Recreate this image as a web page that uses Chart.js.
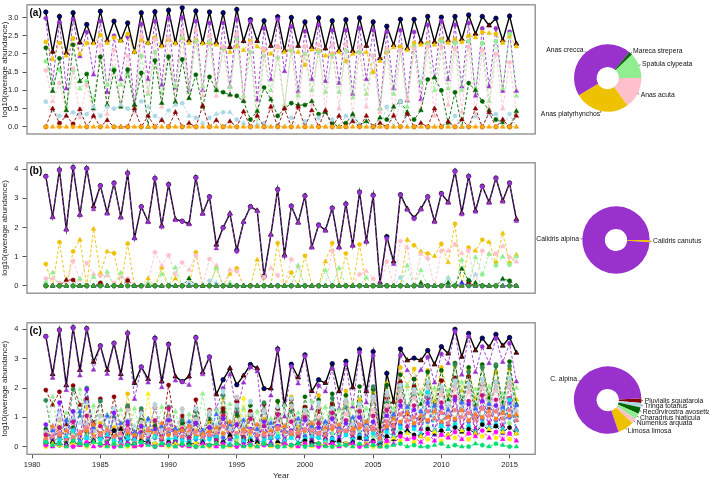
<!DOCTYPE html>
<html>
<head>
<meta charset="utf-8">
<script src="https://cdn.jsdelivr.net/npm/chart.js@4.4.1/dist/chart.umd.min.js"></script>
<style>
  body { margin: 0; background: #fff; }
  #wrap { position: relative; width: 709px; height: 482px; overflow: hidden; }
  canvas { position: absolute; }
</style>
</head>
<body>
<div id="wrap">
  <canvas id="lineA" width="540" height="140" style="left:0;top:0"></canvas>
  <canvas id="lineB" width="540" height="140" style="left:0;top:158px"></canvas>
  <canvas id="lineC" width="540" height="164" style="left:0;top:318px"></canvas>
  <canvas id="pieA" width="179" height="156" style="left:530px;top:0"></canvas>
  <canvas id="pieB" width="179" height="156" style="left:530px;top:162px"></canvas>
  <canvas id="pieC" width="179" height="156" style="left:530px;top:322px"></canvas>
</div>
<script>
// survey years: each year has a winter count (circle) and a summer count (triangle)
const years = [1981, 1982, 1983, 1984, 1985, 1986, 1987, 1988, 1989, 1990,
  1991, 1992, 1993, 1994, 1995, 1996, 1997, 1998, 1999, 2000,
  2001, 2002, 2003, 2004, 2005, 2006, 2007, 2008, 2009, 2010,
  2011, 2012, 2013, 2014, 2015];
const xTicks = ['1980', '1985', '1990', '1995', '2000', '2005', '2010', '2015'];
const yTicksA = ['0.0', '0.5', '1.0', '1.5', '2.0', '2.5', '3.0'];
const yTicksBC = ['0', '1', '2', '3', '4'];

// ---- panel (a): ducks ----
const totalA = [
  3.15,2.06, 3.03,2.03, 3.13,2.31, 2.81,2.31, 3.17,2.37,
  2.90,2.37, 2.85,2.06, 3.13,2.31, 3.16,2.24, 3.20,2.31,
  3.27,2.37, 3.18,2.31, 3.15,2.31, 3.13,2.19, 3.22,2.35,
  2.94,2.35, 2.91,2.22, 3.02,2.10, 3.00,2.22, 2.88,2.19,
  2.99,2.15, 2.91,2.10, 2.94,2.08, 2.99,2.22, 2.88,1.88,
  2.76,2.24, 2.95,2.15, 2.95,2.33, 3.03,2.33, 3.01,2.37,
  3.03,2.40, 3.07,2.55, 3.03,2.78, 2.98,2.37, 3.04,2.28];
const crecca = [
  2.98,1.21, 2.87,1.05, 2.95,1.93, 2.60,1.43, 2.90,0.95,
  2.50,1.30, 2.48,0.60, 2.82,1.30, 2.90,1.15, 2.98,1.07,
  3.00,1.00, 2.90,1.00, 2.85,1.05, 2.85,1.10, 2.95,0.72,
  2.90,0.74, 2.70,1.30, 2.95,1.52, 2.75,0.97, 2.62,1.30,
  2.80,1.25, 2.65,1.20, 2.65,0.90, 2.70,1.30, 2.65,0.50,
  2.60,1.05, 2.65,0.72, 2.60,0.75, 2.80,1.35, 2.90,1.30,
  2.80,1.10, 2.85,0.85, 2.70,1.10, 2.70,0.98, 2.61,0.98];
const platyrhynchos = [
  2.33,1.85, 2.30,1.95, 2.43,2.00, 2.30,2.28, 2.52,2.30,
  2.45,2.35, 2.55,2.05, 2.38,2.30, 2.45,2.20, 2.40,2.28,
  2.45,2.30, 2.38,2.28, 2.30,2.25, 2.15,2.05, 2.22,2.10,
  2.35,2.20, 2.10,2.00, 2.20,2.05, 2.10,2.05, 1.70,2.12,
  2.10,1.95, 2.00,2.05, 1.80,2.00, 2.05,2.05, 1.50,1.80,
  2.05,2.18, 2.20,2.10, 2.30,2.25, 2.30,2.25, 2.40,2.30,
  2.40,2.32, 2.50,2.45, 2.60,2.57, 2.55,2.30, 2.50,2.20];
const clypeata = [
  1.80,1.20, 1.58,0.55, 1.55,1.05, 1.25,0.75, 1.93,1.15,
  1.60,1.15, 1.45,0.55, 1.95,0.90, 2.05,0.92, 1.95,1.10,
  2.45,0.95, 2.35,1.10, 2.35,1.05, 2.15,1.08, 2.40,0.85,
  2.05,0.05, 1.95,1.00, 1.90,0.60, 2.10,0.85, 2.00,1.00,
  2.05,0.95, 1.95,0.95, 2.10,0.80, 2.05,0.90, 1.95,0.50,
  2.10,0.90, 2.10,0.55, 2.20,1.20, 2.25,1.00, 2.35,1.05,
  2.30,1.00, 2.35,1.05, 2.30,0.70, 2.35,1.05, 2.55,0.85];
const acuta = [
  1.55,0.70, 1.20,0.45, 1.60,0.25, 1.15,0.30, 2.25,0.35,
  2.10,0.60, 1.95,0.40, 2.50,0.95, 2.40,0.55, 2.45,0.70,
  2.60,0.80, 2.65,0.85, 2.50,0.85, 2.20,0.85, 2.55,0.75,
  2.30,0.35, 2.15,0.50, 2.20,0.55, 2.20,0.50, 2.20,0.60,
  2.25,0.45, 2.25,0.50, 2.25,0.30, 2.20,0.55, 1.95,0.40,
  2.15,0.35, 2.10,0.75, 2.15,0.50, 2.20,0.30, 2.20,0.60,
  2.15,0.40, 2.20,0.30, 2.10,0.50, 2.00,0.50, 1.77,0.40];
const strepera = [
  2.17,0.98, 1.88,0.45, 2.25,1.25, 1.45,0.50, 1.92,0.60,
  1.55,0.55, 1.57,0.60, 1.48,0.00, 1.82,0.65, 1.92,0.68,
  1.85,0.78, 1.43,0.55, 1.37,1.00, 0.95,0.88, 0.85,0.70,
  0.20,0.43, 1.08,0.75, 0.30,0.50, 0.65,0.60, 0.60,0.70,
  0.35,0.40, 0.10,0.00, 0.10,0.35, 0.05,0.15, 0.00,0.25,
  0.20,0.55, 0.70,0.40, 0.20,0.45, 1.30,1.35, 1.00,0.10,
  0.95,0.00, 1.20,1.00, 0.70,0.45, 0.20,0.12, 0.00,0.43];
const duckRed = [
  0.00,0.50, 0.10,0.30, 0.08,0.48, 0.00,0.30, 0.00,0.18,
  0.00,0.00, 0.00,0.50, 0.00,0.30, 0.00,0.18, 0.00,0.40,
  0.00,0.10, 0.00,0.58, 0.00,0.18, 0.00,0.15, 0.00,0.42,
  0.00,0.30, 0.00,0.55, 0.00,0.50, 0.00,0.55, 0.00,0.45,
  0.00,0.45, 0.00,0.30, 0.00,0.15, 0.00,0.30, 0.00,0.10,
  0.00,0.30, 0.00,0.35, 0.00,0.10, 0.00,0.50, 0.00,0.15,
  0.00,0.20, 0.00,0.50, 0.00,0.40, 0.00,0.20, 0.00,0.30];
const duckBlue = [
  0.69,0.45, 0.30,0.30, 0.40,0.35, 0.35,0.55, 0.30,0.55,
  0.50,0.60, 0.50,0.45, 0.70,0.55, 0.30,0.20, 0.45,0.60,
  0.65,0.30, 0.25,0.10, 0.25,0.35, 0.40,0.40, 0.20,0.10,
  0.00,0.05, 0.10,0.00, 0.05,0.00, 0.25,0.00, 0.15,0.00,
  0.25,0.00, 0.20,0.00, 0.30,0.20, 0.05,0.00, 0.00,0.00,
  0.55,0.00, 0.70,0.00, 0.00,0.00, 0.00,0.00, 0.00,0.00,
  0.30,0.00, 0.00,0.30, 0.00,0.35, 0.35,0.00, 0.35,0.00];
const duckOrange = [
  0,0, 0,0, 0,0, 0,0, 0,0,  0,0, 0,0, 0,0, 0,0, 0,0,
  0,0, 0,0, 0,0, 0,0, 0,0,  0,0, 0,0, 0,0, 0,0, 0,0,
  0,0, 0,0, 0,0, 0,0, 0,0,  0,0, 0,0, 0,0, 0,0, 0,0,
  0,0, 0,0, 0,0, 0,0, 0,0];

// ---- panel (b): Calidris ----
const totalB = [
  3.76,2.36, 3.98,1.94, 4.06,2.44, 4.03,2.72, 3.44,2.50,
  3.53,2.36, 3.87,1.64, 2.72,2.20, 3.69,2.06, 3.48,2.28,
  2.22,2.13, 3.72,2.48, 3.06,1.41, 2.00,2.48, 1.22,2.20,
  2.72,2.58, 0.33,1.76, 3.31,1.06, 2.74,2.17, 3.09,1.33,
  2.09,1.91, 2.67,1.33, 2.81,1.39, 3.22,1.53, 3.11,0.11,
  1.69,0.83, 3.13,2.64, 2.33,2.64, 3.06,2.22, 3.17,2.87,
  3.94,2.50, 3.76,2.58, 3.42,2.87, 3.70,2.92, 3.53,2.28];
const alpina = [
  3.75,2.34, 3.97,1.92, 4.05,2.42, 4.02,2.62, 3.43,2.47,
  3.52,2.33, 3.86,1.62, 2.71,2.18, 3.68,2.02, 3.47,2.25,
  2.21,2.10, 3.71,2.46, 3.05,1.28, 1.99,2.46, 1.18,2.18,
  2.71,2.56, 0.30,1.74, 3.30,1.02, 2.73,2.15, 3.08,1.30,
  2.08,1.88, 2.66,1.30, 2.80,1.36, 3.21,1.50, 3.10,0.06,
  1.62,0.74, 3.12,2.60, 2.30,2.61, 3.05,2.18, 3.16,2.84,
  3.93,2.45, 3.75,2.54, 3.41,2.84, 3.69,2.88, 3.52,2.22];
const canutus = [
  0.75,0.00, 1.50,0.00, 1.18,1.58, 0.00,1.95, 0.40,1.18,
  1.12,0.00, 1.45,0.00, 0.00,0.25, 0.00,0.62, 0.00,0.25,
  0.00,0.00, 1.15,0.00, 0.00,0.65, 0.00,0.40, 0.60,0.00,
  0.00,0.89, 0.00,0.00, 1.47,0.00, 0.45,0.00, 1.03,0.00,
  0.00,0.83, 1.47,0.00, 1.11,0.00, 1.42,0.00, 0.00,0.00,
  0.00,0.00, 0.00,1.58, 1.39,1.17, 1.11,1.02, 1.44,0.80,
  2.13,0.00, 1.31,1.20, 1.58,1.50, 0.80,1.80, 0.78,1.06];
const calPink = [
  0.25,0.25, 0.10,0.10, 0.85,0.20, 0.78,0.40, 0.35,0.35,
  0.10,0.30, 0.25,0.00, 0.00,0.10, 1.15,0.70, 1.05,0.40,
  0.80,0.55, 1.05,0.00, 0.92,0.70, 0.00,0.55, 0.50,0.00,
  0.00,0.00, 0.30,0.61, 0.36,0.00, 0.91,0.64, 0.00,0.00,
  0.00,0.00, 1.20,0.00, 0.00,0.00, 0.39,0.50, 0.24,0.00,
  0.83,0.00, 1.53,1.31, 0.00,1.09, 0.94,0.00, 1.20,1.20,
  1.42,1.11, 1.22,0.00, 1.20,1.09, 1.11,1.36, 0.98,0.83];
const calLightGreen = [
  0.10,0.45, 0.00,0.20, 0.00,0.25, 0.00,0.30, 0.00,0.48,
  0.00,0.45, 0.00,0.00, 0.00,0.10, 0.00,0.40, 0.00,0.62,
  0.00,0.00, 0.00,0.00, 0.00,0.60, 0.00,0.10, 0.00,0.00,
  0.00,0.00, 0.00,0.00, 0.00,0.00, 0.00,0.69, 0.00,0.00,
  0.00,0.53, 0.00,0.61, 0.00,0.00, 0.00,0.28, 0.00,0.00,
  0.00,0.00, 0.00,0.69, 0.00,0.53, 0.00,0.00, 0.00,0.28,
  0.00,0.89, 0.00,0.98, 0.39,1.09, 0.70,1.00, 0.72,1.00];
const calDarkGreen = [
  0,0, 0,0, 0,0, 0,0, 0,0,  0,0, 0,0, 0,0, 0,0, 0,0,
  0,0.25, 0,0, 0,0, 0,0, 0,0,  0,0, 0,0, 0,0, 0,0, 0,0,
  0,0, 0,0, 0,0, 0,0, 0,0,  0,0, 0,0, 0,0.10, 0,0, 0,0.10,
  0,0.58, 0.19,0.10, 0,0, 0,0.24, 0.17,0];
const calGreen = [
  0,0, 0,0, 0,0, 0,0, 0,0,  0,0, 0,0, 0,0, 0,0, 0,0,
  0,0, 0,0, 0,0, 0,0, 0,0,  0,0, 0,0, 0,0, 0,0, 0,0,
  0,0, 0,0, 0,0, 0,0, 0,0,  0,0, 0,0, 0,0, 0,0, 0,0,
  0,0, 0,0, 0,0, 0,0, 0,0];
const calLightBlue = [
  0,0, 0,0, 0,0, 0,0, 0,0,  0,0, 0,0, 0,0, 0,0, 0,0,
  0,0.11, 0,0, 0.17,0.10, 0,0, 0,0,  0,0, 0,0, 0,0, 0,0, 0,0,
  0,0, 0,0, 0,0, 0,0, 0,0,  0,0, 0.28,0, 0,0, 0,0, 0,0.24,
  0,0, 0,0.39, 0,0, 0,0.20, 0,0];
const calDarkRed = [
  0,0, 0,0.20, 0.20,0, 0,0, 0.10,0,  0,0, 0.18,0, 0,0, 0,0, 0,0,
  0,0, 0,0, 0,0, 0,0, 0,0,  0,0, 0,0, 0,0, 0,0, 0,0,
  0,0, 0,0, 0,0, 0,0, 0,0,  0,0, 0,0, 0,0, 0,0, 0,0,
  0,0, 0.10,0, 0,0, 0,0, 0,0];
const calBlue = [
  0,0, 0,0, 0,0, 0,0, 0,0,  0,0, 0,0, 0,0, 0,0, 0,0,
  0,0, 0,0, 0,0, 0,0, 0,0,  0,0, 0,0, 0,0, 0,0, 0,0,
  0,0, 0,0, 0,0, 0,0, 0,0,  0,0, 0,0, 0,0, 0,0, 0,0,
  0,0.10, 0,0, 0,0, 0,0, 0,0];

// ---- panel (c): all waders ----
const totalC = [
  3.76,2.47, 3.98,2.09, 4.06,2.61, 4.03,2.89, 3.44,2.61,
  3.53,2.47, 3.87,2.17, 2.72,2.30, 3.70,2.22, 3.49,2.39,
  2.22,2.39, 3.72,2.53, 3.06,1.78, 2.28,2.67, 2.11,2.42,
  2.80,2.67, 1.98,1.98, 3.33,1.42, 2.81,2.36, 3.13,1.89,
  2.28,2.17, 2.83,1.89, 2.91,2.02, 3.31,1.89, 3.24,0.56,
  2.50,1.53, 3.33,2.94, 3.02,2.94, 3.28,2.80, 3.41,3.17,
  4.00,3.06, 3.86,3.28, 3.70,3.39, 3.83,3.44, 3.72,3.20];
const limosa = [
  0.45,0.20, 0.90,0.30, 0.55,0.15, 1.35,0.40, 0.80,0.25,
  0.65,0.20, 1.80,0.35, 0.90,0.30, 0.70,0.25, 1.05,0.40,
  0.75,0.20, 0.55,0.15, 0.85,0.30, 1.65,0.55, 1.05,0.35,
  1.20,0.50, 0.95,0.40, 1.55,0.30, 1.70,0.65, 1.30,0.45,
  1.75,0.60, 1.45,0.50, 1.90,0.70, 1.60,0.55, 1.85,0.25,
  2.15,1.00, 2.70,2.05, 2.65,1.80, 2.60,1.55, 2.70,1.75,
  2.75,1.90, 2.60,1.65, 2.70,1.70, 2.55,1.45, 2.65,1.60];
const numenius = [
  0.25,0.45, 0.50,0.60, 0.35,0.40, 0.75,0.55, 0.40,0.30,
  0.55,0.35, 0.60,0.25, 0.70,0.40, 0.45,0.50, 0.80,0.35,
  0.65,0.45, 0.90,0.40, 0.70,0.55, 1.00,0.50, 0.85,0.45,
  0.95,0.60, 0.80,0.45, 1.05,0.55, 0.90,0.50, 1.15,0.65,
  1.00,0.55, 1.20,0.70, 1.10,0.60, 1.30,0.65, 1.25,0.20,
  1.40,0.85, 1.70,1.20, 1.65,1.10, 1.80,1.25, 1.75,1.15,
  1.95,1.35, 1.85,1.20, 2.00,1.40, 1.90,1.30, 2.05,1.25];
const charadrius = [
  0.30,1.70, 0.25,1.15, 0.40,1.95, 0.35,1.40, 0.20,1.10,
  0.30,1.25, 0.25,1.30, 0.35,0.95, 0.30,1.35, 0.40,1.20,
  0.25,1.10, 0.35,1.80, 0.30,1.25, 0.40,1.45, 0.25,1.30,
  0.35,1.20, 0.30,0.95, 0.45,1.40, 0.35,1.15, 0.40,1.55,
  0.30,1.35, 0.45,1.25, 0.40,1.50, 0.50,1.30, 0.35,0.20,
  0.55,1.30, 0.60,2.10, 0.70,1.85, 0.65,2.00, 0.75,1.90,
  0.80,2.20, 0.70,1.95, 0.85,2.05, 0.75,1.80, 0.80,2.00];
const recurvirostra = [
  0.60,0.10, 0.40,0.05, 0.65,0.10, 0.50,0.20, 0.35,0.05,
  0.55,0.15, 0.40,0.10, 0.90,0.20, 0.70,0.30, 1.00,0.25,
  0.80,0.15, 1.00,0.30, 0.95,0.20, 1.20,0.35, 1.10,0.30,
  1.40,0.40, 1.25,0.30, 1.55,0.50, 1.45,0.35, 1.70,0.55,
  1.60,0.40, 1.80,0.60, 1.75,0.45, 2.05,0.65, 1.95,0.30,
  2.10,0.90, 2.45,1.20, 2.30,1.45, 2.55,1.30, 2.60,1.60,
  2.85,1.55, 2.70,1.40, 2.80,1.65, 2.75,1.50, 2.90,1.45];
const tringa = [
  0.50,0.70, 1.20,0.60, 0.95,0.80, 1.50,0.55, 1.05,0.65,
  1.30,0.50, 0.90,0.70, 1.15,0.45, 1.45,0.60, 1.00,0.55,
  1.25,0.65, 1.30,0.50, 1.10,0.75, 1.90,0.60, 1.40,0.70,
  1.55,0.50, 1.20,0.65, 1.35,0.55, 1.65,0.80, 1.25,0.60,
  1.50,0.70, 1.30,0.55, 1.60,0.75, 1.45,0.65, 1.70,0.15,
  1.85,0.95, 2.10,1.30, 1.95,1.20, 2.20,1.15, 2.05,1.40,
  2.25,1.35, 2.15,1.25, 2.30,1.45, 2.20,1.30, 2.35,1.20];
const pluvialis = [
  1.93,1.42, 1.87,0.75, 2.08,1.42, 1.63,0.80, 1.63,0.45,
  1.70,0.60, 1.35,0.30, 1.20,0.55, 1.33,0.40, 2.10,0.60,
  1.05,0.35, 1.60,0.45, 1.25,0.30, 1.30,0.50, 1.55,0.35,
  1.20,0.60, 1.45,0.40, 1.30,0.55, 1.60,0.45, 1.35,0.50,
  1.20,0.30, 1.45,0.40, 1.55,0.60, 1.25,0.35, 1.70,0.20,
  1.65,0.80, 2.20,1.10, 2.05,0.95, 2.15,1.20, 2.25,1.05,
  2.35,1.25, 2.40,1.00, 2.10,1.30, 2.20,1.15, 2.05,0.90];
const waderSeaGreen = [
  1.58,0.30, 0.65,0.20, 1.95,1.05, 2.00,0.55, 1.55,0.25,
  1.00,0.30, 1.40,0.20, 1.30,0.45, 0.85,0.15, 1.35,0.35,
  0.90,0.20, 1.20,0.25, 1.10,0.40, 1.75,0.30, 1.30,0.25,
  1.05,0.15, 1.50,0.35, 0.95,0.20, 1.20,0.40, 1.25,0.30,
  0.95,0.25, 1.65,0.45, 1.35,0.30, 1.45,0.25, 2.05,0.10,
  1.50,0.60, 2.00,1.30, 1.80,1.05, 2.10,0.95, 1.95,1.20,
  2.80,1.35, 2.55,1.10, 2.70,1.40, 2.80,1.25, 2.75,1.05];
const waderViolet = [
  0.75,0.15, 1.50,0.30, 1.20,0.20, 1.95,0.25, 0.40,0.10,
  1.15,0.20, 0.85,0.15, 0.70,0.25, 0.60,0.10, 0.90,0.20,
  0.55,0.15, 0.80,0.20, 0.65,0.10, 0.95,0.25, 0.75,0.15,
  0.60,0.20, 0.85,0.15, 0.70,0.25, 0.55,0.10, 0.90,0.20,
  0.65,0.15, 0.95,0.30, 0.80,0.20, 1.00,0.25, 0.85,0.10,
  1.05,0.35, 1.40,0.55, 1.25,0.45, 1.50,0.40, 1.35,0.60,
  1.60,0.55, 1.45,0.50, 1.55,0.65, 1.40,0.45, 1.50,0.55];
const waderRoyal = [
  0.20,0.55, 0.35,0.90, 0.25,1.20, 0.30,0.65, 0.45,1.05,
  0.35,0.80, 0.25,0.50, 0.40,0.95, 0.30,0.70, 0.45,0.60,
  0.30,0.85, 0.25,0.55, 0.35,1.10, 0.30,0.75, 0.40,0.90,
  0.25,0.60, 0.35,0.80, 0.30,0.55, 0.45,0.95, 0.35,0.70,
  0.40,0.85, 0.30,0.65, 0.50,1.00, 0.40,0.80, 0.55,0.15,
  0.60,1.10, 0.75,1.35, 0.70,1.20, 0.85,1.40, 0.80,1.25,
  0.90,1.50, 0.85,1.30, 0.95,1.45, 0.90,1.35, 1.00,1.40];
const waderOrange = [
  0.25,0.70, 0.40,0.55, 0.30,0.45, 0.55,0.75, 0.45,0.60,
  0.35,0.65, 0.50,0.40, 0.30,0.55, 0.45,0.80, 0.40,0.50,
  0.55,0.70, 0.35,0.45, 0.50,0.65, 0.45,0.85, 0.40,0.60,
  0.50,0.75, 0.45,0.55, 0.60,0.70, 0.40,0.50, 0.55,0.80,
  0.45,0.65, 0.60,0.75, 0.50,0.60, 0.65,0.85, 0.55,0.30,
  0.70,0.95, 0.85,1.15, 0.80,1.05, 0.90,1.20, 0.85,1.00,
  0.95,1.25, 0.90,1.10, 1.00,1.20, 0.95,1.15, 1.05,1.10];
const waderMagentaRed = [
  0.40,0.20, 0.65,0.30, 0.85,0.15, 1.05,0.25, 0.70,0.35,
  0.55,0.20, 0.75,0.30, 0.50,0.15, 0.90,0.25, 1.30,0.20,
  0.60,0.30, 0.80,0.20, 0.65,0.25, 1.05,0.35, 0.75,0.20,
  0.95,0.25, 0.70,0.30, 1.10,0.20, 0.85,0.35, 1.00,0.25,
  0.80,0.30, 1.15,0.25, 0.90,0.35, 1.20,0.30, 1.05,0.15,
  1.25,0.45, 1.55,0.70, 1.40,0.60, 1.65,0.55, 1.50,0.75,
  1.70,0.65, 1.55,0.60, 1.75,0.80, 1.60,0.70, 1.65,0.60];
const waderCyan = [
  0.15,0.10, 0.20,0.35, 0.55,0.15, 0.30,0.20, 0.25,0.40,
  0.20,0.15, 0.30,0.25, 0.15,0.20, 0.35,0.10, 0.25,0.30,
  0.20,0.15, 0.30,0.20, 0.25,0.35, 0.15,0.10, 0.35,0.20,
  0.25,0.15, 0.20,0.30, 0.35,0.20, 0.30,0.15, 0.25,0.35,
  0.30,0.20, 0.25,0.15, 0.40,0.25, 0.35,0.30, 0.45,0.10,
  0.50,0.35, 0.65,0.50, 0.60,0.45, 1.85,0.55, 0.70,0.60,
  0.75,0.55, 0.70,0.50, 0.80,0.65, 0.75,0.60, 1.60,0.55];
const waderGrey = [
  0.50,0.30, 0.95,0.45, 1.20,0.35, 0.80,0.55, 1.05,0.40,
  0.90,0.35, 1.25,0.50, 0.85,0.40, 1.35,0.45, 1.00,0.30,
  1.30,0.45, 0.95,0.35, 1.20,0.50, 1.00,0.40, 1.70,0.55,
  1.10,0.40, 1.25,0.45, 0.95,0.35, 1.40,0.50, 1.15,0.45,
  1.35,0.55, 1.05,0.40, 1.50,0.60, 1.25,0.45, 1.60,0.25,
  1.75,0.70, 1.95,0.95, 1.85,0.85, 2.05,0.90, 1.90,1.00,
  2.10,1.05, 2.00,0.95, 2.15,1.10, 2.05,1.00, 2.20,0.95];
const waderBlack = [
  0.10,0.15, 0.05,0.10, 0.15,0.05, 0.10,0.20, 0.05,0.10,
  0.55,0.60, 0.10,0.05, 0.20,0.15, 0.10,0.05, 0.15,0.10,
  0.05,0.10, 0.10,0.15, 0.05,0.10, 0.15,0.40, 0.10,0.05,
  0.20,0.15, 0.10,0.05, 0.15,0.10, 0.05,0.10, 0.20,0.15,
  0.10,0.05, 0.15,0.20, 0.10,0.15, 0.30,0.10, 0.20,0.05,
  0.35,0.25, 0.45,0.55, 0.40,0.35, 0.60,0.45, 0.55,0.40,
  0.65,0.50, 0.60,0.45, 0.75,0.55, 0.70,0.50, 0.65,0.45];
const waderMagenta = [
  0.05,0.00, 0.10,0.05, 0.00,0.05, 0.15,0.00, 0.05,0.10,
  0.00,0.05, 0.10,0.00, 0.05,0.10, 0.00,0.05, 0.10,0.00,
  0.05,0.00, 0.00,0.10, 0.05,0.00, 0.10,0.05, 0.00,0.05,
  0.10,0.00, 0.05,0.05, 0.00,0.10, 0.05,0.00, 0.10,0.05,
  0.00,0.05, 0.10,0.00, 0.05,0.10, 0.00,0.05, 0.15,0.00,
  0.20,0.10, 0.35,0.25, 0.30,0.15, 0.45,0.20, 0.40,0.30,
  0.50,0.25, 0.45,0.35, 0.55,0.30, 0.50,0.25, 0.45,0.20];
const waderSpring = [
  0.15,0.05, 0.10,0.00, 0.20,0.10, 0.05,0.15, 0.10,0.00,
  0.10,0.00, 0.05,0.10, 0.15,0.05, 0.00,0.10, 0.05,0.00,
  0.10,0.05, 0.00,0.00, 0.05,0.10, 0.00,0.05, 0.10,0.00,
  0.05,0.00, 0.10,0.05, 0.00,0.00, 0.05,0.10, 0.00,0.05,
  0.10,0.00, 0.00,0.05, 0.05,0.00, 0.10,0.00, 0.05,0.00,
  0.00,0.05, 0.10,0.00, 0.05,0.00, 0.00,0.05, 0.10,0.00,
  0.05,0.00, 0.00,0.10, 0.05,0.00, 0.10,0.05, 0.00,0.00];
const waderYellow = [
  0.00,0.10, 0.05,0.00, 0.10,0.05, 0.00,0.15, 0.05,0.00,
  0.10,0.05, 0.00,0.00, 0.05,1.80, 0.10,0.05, 0.00,0.10,
  0.05,0.00, 0.10,0.05, 0.00,0.10, 0.05,0.00, 0.10,1.65,
  0.00,0.05, 0.10,0.00, 0.05,0.10, 0.00,0.05, 0.10,0.00,
  0.05,0.10, 0.00,0.05, 0.10,0.00, 0.05,0.10, 0.00,0.00,
  0.10,0.30, 0.20,0.45, 0.15,0.35, 0.25,0.50, 0.20,0.40,
  0.30,0.55, 0.25,0.45, 0.35,0.60, 0.30,0.50, 0.25,0.45];
const waderSalmon = [
  0.20,0.35, 0.45,0.25, 0.30,0.50, 0.65,0.30, 0.40,0.55,
  0.30,0.45, 0.55,0.20, 0.35,0.60, 0.45,0.30, 0.60,0.40,
  0.35,0.55, 0.50,0.30, 0.40,0.45, 0.70,0.35, 0.45,0.50,
  0.55,0.40, 0.40,0.35, 0.65,0.50, 0.50,0.45, 0.60,0.55,
  0.45,0.40, 0.70,0.55, 0.55,0.45, 0.75,0.60, 0.65,0.20,
  0.85,0.70, 1.10,0.90, 1.00,0.85, 1.20,0.95, 1.15,0.80,
  1.25,1.00, 1.15,0.90, 1.30,1.05, 1.20,0.95, 1.25,0.90];

// ---- pie charts (clockwise) ----
const pieLabelsA = ['Anas acuta', 'Anas platyrhynchos', 'Anas crecca', 'Mareca strepera', 'Spatula clypeata'];
const pieValuesA = [15.1, 26.3, 44.7, 1.7, 12.2];
const pieLabelsB = ['Calidris canutus', 'Calidris alpina'];
const pieValuesB = [1.1, 98.9];
const pieLabelsC = ['Pluvialis squatarola', 'Tringa totanus', 'Recurvirostra avosetta',
  'Charadrius hiaticula', 'Numenius arquata', 'Limosa limosa', 'C. alpina'];
const pieValuesC = [2.2, 2.2, 3.1, 2.8, 2.5, 7.8, 79.4];

const PURPLE = '#9932CC', GOLD = '#EEC200', PINK = '#FFC0CB', LGREEN = '#90EE90',
  DGREEN = '#006400', DRED = '#8B0000', LBLUE = '#ADD8E6';

Chart.defaults.font.family = '"Liberation Sans", Arial, sans-serif';
Chart.defaults.font.size = 7.5;
Chart.defaults.color = '#222';

const times = years.flatMap(y => [y, y + 0.5]);

function speciesLine(values, color) {
  return {
    data: values.map((v, i) => ({ x: times[i], y: v })),
    borderColor: color,
    borderWidth: 0.9,
    borderDash: [3, 2],
    pointStyle: c => c.dataIndex % 2 ? 'triangle' : 'circle',
    pointRadius: c => c.dataIndex % 2 ? 2.7 : 2.1,
    pointBackgroundColor: color,
    pointBorderColor: color,
    pointBorderWidth: 0.5
  };
}

function totalLine(values) {
  return {
    data: values.map((v, i) => ({ x: times[i], y: v })),
    borderColor: '#000',
    borderWidth: 1.4,
    pointStyle: c => c.dataIndex % 2 ? 'triangle' : 'circle',
    pointRadius: c => c.dataIndex % 2 ? 2.8 : 2.2,
    pointBackgroundColor: c => c.dataIndex % 2 ? '#8B0000' : '#00008B',
    pointBorderColor: '#000',
    pointBorderWidth: 0.8
  };
}

// box round the plot region and the panel letter
const panelPlugin = {
  id: 'panel',
  afterDatasetsDraw(chart, args, opts) {
    const { ctx, chartArea: a } = chart;
    ctx.save();
    ctx.strokeStyle = '#8a8a8a';
    ctx.lineWidth = 1.3;
    ctx.strokeRect(a.left, a.top, a.right - a.left, a.bottom - a.top);
    ctx.fillStyle = '#000';
    ctx.font = 'bold 10px "Liberation Sans", Arial, sans-serif';
    ctx.textAlign = 'left';
    ctx.textBaseline = 'middle';
    ctx.fillText(opts.letter, a.left + 2.5, a.top + 8.5);
    ctx.restore();
  }
};

function lineChart(id, datasets, yTicks, yMin, yMax, letter, showX, pad) {
  const xScale = { type: 'linear', min: 1979.62, max: 2016.88, display: false };
  if (showX) {
    Object.assign(xScale, {
      display: true,
      afterBuildTicks: s => { s.ticks = xTicks.map(t => ({ value: Number(t) })); },
      afterFit: s => { s.height = 27.7; s.paddingLeft = 0; s.paddingRight = 0; },
      ticks: { callback: (v, i) => xTicks[i], padding: 2, autoSkip: false, maxRotation: 0 },
      grid: { drawOnChartArea: false, tickLength: 4, color: '#555' },
      border: { display: false },
      title: { display: true, text: 'Year', font: { size: 8 }, padding: { top: 0, bottom: 1.5 } }
    });
  }
  new Chart(document.getElementById(id), {
    type: 'line',
    data: { datasets },
    options: {
      responsive: false,
      animation: false,
      layout: { padding: pad },
      scales: {
        x: xScale,
        y: {
          min: yMin,
          max: yMax,
          afterBuildTicks: s => { s.ticks = yTicks.map(t => ({ value: Number(t) })); },
          afterFit: s => { s.width = 27; s.paddingTop = 0; s.paddingBottom = 0; },
          ticks: { callback: (v, i) => yTicks[i], padding: 4, autoSkip: false },
          grid: { drawOnChartArea: false, tickLength: 4.5, color: '#555' },
          border: { display: false },
          title: { display: true, text: 'log10(average abundance)', font: { size: 8 }, padding: 0 }
        }
      },
      plugins: { legend: { display: false }, tooltip: { enabled: false }, panel: { letter } }
    },
    plugins: [panelPlugin]
  });
}

// R-style pie labels: tick from r to 1.05r, text at 1.1r
const pieLabelPlugin = {
  id: 'pieLabels',
  afterDatasetsDraw(chart) {
    const ctx = chart.ctx;
    const labels = chart.data.labels;
    ctx.save();
    ctx.font = '6.8px "Liberation Sans", Arial, sans-serif';
    ctx.fillStyle = '#111';
    ctx.strokeStyle = '#111';
    ctx.lineWidth = 0.6;
    ctx.textBaseline = 'middle';
    chart.getDatasetMeta(0).data.forEach((arc, i) => {
      const p = arc.getProps(['x', 'y', 'startAngle', 'endAngle', 'outerRadius'], true);
      const mid = (p.startAngle + p.endAngle) / 2;
      const c = Math.cos(mid), s = Math.sin(mid), r = p.outerRadius;
      ctx.beginPath();
      ctx.moveTo(p.x + c * r, p.y + s * r);
      ctx.lineTo(p.x + c * r * 1.05, p.y + s * r * 1.05);
      ctx.stroke();
      ctx.textAlign = c > 0 ? 'left' : 'right';
      ctx.fillText(labels[i], p.x + c * r * 1.1, p.y + s * r * 1.1);
    });
    ctx.restore();
  }
};

function pieChart(id, labels, values, colors, padRight, rotation) {
  new Chart(document.getElementById(id), {
    type: 'doughnut',
    data: { labels, datasets: [{ data: values, backgroundColor: colors, borderWidth: 0 }] },
    options: {
      responsive: false,
      animation: false,
      rotation,
      cutout: '33%',
      radius: 33.7,
      layout: { padding: { right: padRight } },
      plugins: { legend: { display: false }, tooltip: { enabled: false } }
    },
    plugins: [pieLabelPlugin]
  });
}

lineChart('lineA', [
  speciesLine(duckOrange, '#FFA500'),
  speciesLine(duckRed, DRED),
  speciesLine(duckBlue, LBLUE),
  speciesLine(strepera, DGREEN),
  speciesLine(acuta, PINK),
  speciesLine(clypeata, LGREEN),
  speciesLine(platyrhynchos, GOLD),
  speciesLine(crecca, PURPLE),
  totalLine(totalA)
], yTicksA, -0.196, 3.349, '(a)', false, { top: 2, right: 2.5, bottom: 6, left: 0 });

lineChart('lineB', [
  speciesLine(calGreen, '#3DA12F'),
  speciesLine(calDarkGreen, DGREEN),
  speciesLine(calBlue, '#2020FF'),
  speciesLine(calDarkRed, DRED),
  speciesLine(calLightBlue, LBLUE),
  speciesLine(calLightGreen, LGREEN),
  speciesLine(calPink, PINK),
  speciesLine(canutus, GOLD),
  speciesLine(alpina, PURPLE),
  totalLine(totalB)
], yTicksBC, -0.253, 4.223, '(b)', false, { top: 2, right: 2.5, bottom: 3.7, left: 0 });

lineChart('lineC', [
  speciesLine(waderSpring, '#00E070'),
  speciesLine(waderMagenta, '#FF00FF'),
  speciesLine(waderYellow, '#FFEE00'),
  speciesLine(waderBlack, '#000000'),
  speciesLine(waderCyan, '#00E5EE'),
  speciesLine(waderSalmon, '#F08080'),
  speciesLine(waderOrange, '#FF7F24'),
  speciesLine(waderRoyal, '#3A6BFF'),
  speciesLine(waderViolet, '#7B1FFF'),
  speciesLine(waderMagentaRed, '#C8137E'),
  speciesLine(waderGrey, '#C8C8C8'),
  speciesLine(tringa, LBLUE),
  speciesLine(numenius, PINK),
  speciesLine(charadrius, LGREEN),
  speciesLine(waderSeaGreen, '#2E8B57'),
  speciesLine(pluvialis, DRED),
  speciesLine(recurvirostra, DGREEN),
  speciesLine(limosa, GOLD),
  speciesLine(alpina, PURPLE),
  totalLine(totalC)
], yTicksBC, -0.26, 4.223, '(c)', true, { top: 2, right: 2.5, bottom: 0, left: 0 });

pieChart('pieA', pieLabelsA, pieValuesA, [PINK, GOLD, PURPLE, DGREEN, LGREEN], 23.6, 90);
pieChart('pieB', pieLabelsB, pieValuesB, [GOLD, PURPLE], 7, 90);
pieChart('pieC', pieLabelsC, pieValuesC, [DRED, LBLUE, DGREEN, LGREEN, PINK, GOLD, PURPLE], 23.6, 87);
</script>
</body>
</html>
